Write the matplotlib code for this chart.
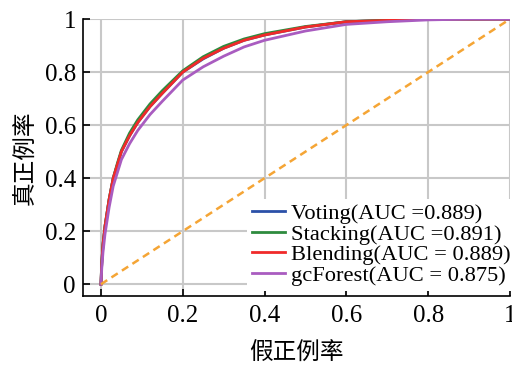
import matplotlib
matplotlib.use("Agg")
import matplotlib.pyplot as plt
import numpy as np

plt.rcParams['font.family'] = ['Liberation Serif', 'Noto Sans CJK SC']

fpr = [0, 0.002, 0.005, 0.01, 0.02, 0.03, 0.04, 0.05, 0.07, 0.09, 0.12, 0.15,
       0.2, 0.25, 0.3, 0.35, 0.4, 0.5, 0.6, 0.7, 0.8, 0.9, 1.0]
tpr_voting = [0, 0.08, 0.15, 0.22, 0.32, 0.40, 0.45, 0.50, 0.56, 0.61, 0.67, 0.72,
              0.80, 0.85, 0.89, 0.92, 0.94, 0.97, 0.99, 0.995, 1.0, 1.0, 1.0]
tpr_stacking = [0, 0.08, 0.15, 0.22, 0.32, 0.40, 0.455, 0.505, 0.57, 0.62, 0.68, 0.73,
                0.805, 0.858, 0.897, 0.925, 0.945, 0.972, 0.99, 0.996, 1.0, 1.0, 1.0]
tpr_blending = [0, 0.08, 0.15, 0.22, 0.32, 0.40, 0.45, 0.50, 0.56, 0.61, 0.67, 0.72,
                0.80, 0.852, 0.89, 0.92, 0.94, 0.97, 0.99, 0.995, 1.0, 1.0, 1.0]
tpr_gcforest = [0, 0.06, 0.12, 0.19, 0.29, 0.37, 0.42, 0.47, 0.53, 0.58, 0.64, 0.69,
                0.77, 0.82, 0.86, 0.895, 0.92, 0.955, 0.98, 0.99, 0.997, 1.0, 1.0]

labels = ["Voting(AUC =0.889)", "Stacking(AUC =0.891)",
          "Blending(AUC = 0.889)", "gcForest(AUC = 0.875)"]
colors = ["#2b50a8", "#2e8b3e", "#f02a2a", "#a95cc0"]
ticks = [0, 0.2, 0.4, 0.6, 0.8, 1]
tick_labels = ["0", "0.2", "0.4", "0.6", "0.8", "1"]

fig = plt.figure(figsize=(5.12, 3.67), dpi=100)
ax = fig.add_axes([0.162, 0.193, 0.834, 0.755])

for y, c, lab in zip([tpr_voting, tpr_stacking, tpr_blending, tpr_gcforest], colors, labels):
    ax.plot(fpr, y, color=c, lw=2, label=lab)
ax.plot([0, 1], [0, 1], color="#f5a535", lw=1.8, ls=(0, (3, 2)))

ax.set_xlim(-0.044, 1.0)
ax.set_ylim(-0.045, 1.0)
ax.set_xticks(ticks)
ax.set_xticklabels(tick_labels)
ax.set_yticks(ticks)
ax.set_yticklabels(tick_labels)
ax.grid(True, color="#c8c8c8", lw=1.5)
ax.set_axisbelow(True)
for s in ["top", "right"]:
    ax.spines[s].set_visible(False)
for s in ["left", "bottom"]:
    ax.spines[s].set_linewidth(1.2)
ax.tick_params(direction="in", length=5, width=1.2, labelsize=18)
ax.tick_params(axis="y", pad=5)
ax.tick_params(axis="x", pad=6)

ax.set_xlabel("假正例率", fontsize=17, family=["Noto Sans CJK SC"], labelpad=11)
ax.set_ylabel("真正例率", fontsize=17, family=["Noto Sans CJK SC"], labelpad=6)

leg = ax.legend(loc="lower right", bbox_to_anchor=(1.018, 0.012), fontsize=16.2,
                frameon=True, framealpha=1, edgecolor="none", fancybox=False,
                handlelength=1.45, handletextpad=0.3, labelspacing=0.0,
                borderpad=0.2, borderaxespad=0.1)

fig.savefig("out.png", dpi=100)
